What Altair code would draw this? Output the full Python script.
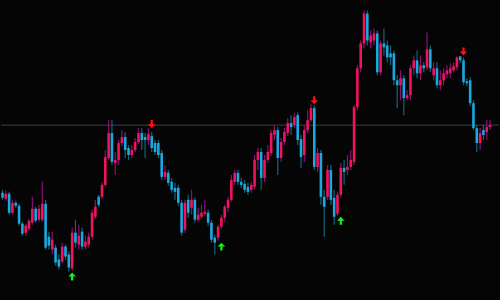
import altair as alt
import pandas as pd

# OHLC candles (price units)
opens = [107,101,106,87,97,94,76,67,71,77,91,80,80,96,63,50,52,40,38,53,
         45,31,67,55,68,53,55,63,83,103,103,115,142,167,137,140,157,163,152,145,
         150,158,167,163,160,164,157,157,147,123,127,118,112,112,97,70,100,92,100,80,
         83,86,87,77,62,62,73,82,92,100,118,127,118,116,113,110,113,140,148,122,
         140,147,165,170,142,158,167,177,175,185,161,145,170,180,192,133,147,103,103,130,
         102,86,105,132,130,133,138,193,232,257,287,258,260,267,228,257,255,247,247,220,
         215,222,202,205,232,240,227,235,233,251,225,232,215,220,226,227,230,233,244,240,
         219,220,197,172,157,170,168,173]
closes = [102,106,87,97,94,76,66,74,79,91,79,91,96,52,54,60,37,33,53,43,
          32,67,57,64,53,58,63,87,93,95,115,143,167,138,140,157,163,150,145,150,
          158,167,160,160,166,152,148,145,123,128,117,110,108,97,67,97,87,100,80,85,
          87,88,77,60,57,73,82,93,100,120,127,118,115,110,108,115,140,148,122,140,
          148,167,170,142,158,168,177,173,183,160,143,170,180,192,133,147,103,93,130,100,
          83,105,132,128,133,140,193,232,257,287,260,265,267,228,257,253,243,243,220,215,
          222,202,205,232,240,227,235,232,251,232,232,215,220,227,230,232,234,243,240,218,
          217,197,172,157,167,165,173,175]
highs = [110,109,108,100,99,96,78,76,81,103,93,95,118,100,68,68,55,45,57,55,
         48,72,80,75,72,64,67,90,100,105,117,150,180,180,148,160,170,168,155,155,
         162,172,172,167,172,168,160,160,150,135,130,122,117,115,100,100,105,110,102,92,
         95,100,90,80,65,75,85,95,103,125,130,130,122,120,117,118,145,152,152,145,
         155,170,175,173,162,172,182,185,187,188,165,175,190,196,195,152,150,110,135,135,
         110,108,137,140,145,150,195,235,260,290,290,270,272,270,260,272,260,255,250,225,
         230,225,210,235,245,250,245,238,268,255,238,238,230,232,235,237,238,244,244,243,
         222,223,200,175,172,175,180,180]
lows = [100,99,85,85,92,74,64,64,69,75,77,78,78,50,50,45,34,30,36,40,
        28,29,52,50,50,50,52,60,81,93,101,113,140,135,125,135,154,142,140,142,
        148,156,150,142,155,148,145,142,120,120,114,107,100,94,64,67,82,85,77,78,
        81,84,74,57,45,59,71,78,88,98,115,115,112,107,105,107,110,130,110,118,
        137,144,160,125,138,155,164,165,172,155,132,138,167,178,130,128,95,63,100,95,
        75,84,102,115,125,130,135,190,228,252,255,252,255,225,225,245,238,235,215,192,
        200,185,200,200,225,222,220,228,230,228,220,212,210,215,222,222,228,230,237,215,
        214,194,170,148,150,160,160,170]

level = [175]
sell_idx = [45, 94, 139]
sell_price = [176, 200, 249]
buy_idx = [21, 66, 102]
buy_price = [23, 53, 79]

n = len(opens)
df = pd.DataFrame({"i": list(range(n)), "open": opens, "close": closes,
                   "high": highs, "low": lows})
df["dir"] = ["up" if c >= o else "down" for o, c in zip(opens, closes)]

sig = pd.DataFrame({
    "i": sell_idx + buy_idx,
    "p": sell_price + buy_price,
    "kind": ["sell"] * len(sell_idx) + ["buy"] * len(buy_idx),
})

xs = alt.Scale(domain=[-0.45, 149.7], nice=False, zero=False, padding=0)
ys = alt.Scale(domain=[0, 300], nice=False, zero=False, padding=0)

wick_col = alt.Color("dir:N", scale=alt.Scale(domain=["up", "down"],
                     range=["#8a1078", "#10677c"]), legend=None)
body_col = alt.Color("dir:N", scale=alt.Scale(domain=["up", "down"],
                     range=["#f2135f", "#1aa8e0"]), legend=None)

line = alt.Chart(pd.DataFrame({"level": level})).mark_rule(
    color="#3c3f46", strokeWidth=1).encode(
    y=alt.Y("level:Q", scale=ys, axis=None))

wicks = alt.Chart(df).mark_rule(strokeWidth=1.2).encode(
    x=alt.X("i:Q", scale=xs, axis=None),
    y=alt.Y("low:Q", scale=ys, axis=None),
    y2="high:Q",
    color=wick_col)

bodies = alt.Chart(df).mark_bar(size=2.6).encode(
    x=alt.X("i:Q", scale=xs, axis=None),
    y=alt.Y("open:Q", scale=ys, axis=None),
    y2="close:Q",
    color=body_col)

down_path = "M-0.28,-1L0.28,-1L0.28,0L0.95,0L0,1L-0.95,0L-0.28,0Z"
up_path = "M-0.28,1L0.28,1L0.28,0L0.95,0L0,-1L-0.95,0L-0.28,0Z"

sells = alt.Chart(sig).transform_filter(alt.datum.kind == "sell").mark_point(
    shape=down_path, filled=True, color="#ff1010", size=64, opacity=1).encode(
    x=alt.X("i:Q", scale=xs, axis=None),
    y=alt.Y("p:Q", scale=ys, axis=None))

buys = alt.Chart(sig).transform_filter(alt.datum.kind == "buy").mark_point(
    shape=up_path, filled=True, color="#19f019", size=64, opacity=1).encode(
    x=alt.X("i:Q", scale=xs, axis=None),
    y=alt.Y("p:Q", scale=ys, axis=None))

chart = alt.layer(line, wicks, bodies, sells, buys).properties(
    width=500, height=300, padding=0, background="#050505"
).resolve_scale(color="independent").configure_view(stroke=None)

chart.save("out.html", embed_options={"renderer": "svg", "actions": False})
